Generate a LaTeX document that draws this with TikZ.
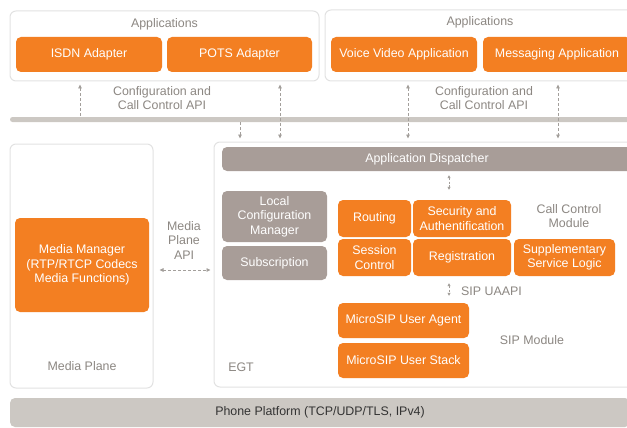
\documentclass[tikz,border=0pt]{standalone}
\usepackage{fontspec}
\setmainfont{Liberation Sans}
\usetikzlibrary{arrows.meta}
\definecolor{sapOrange}{HTML}{F37F22}
\definecolor{sapTaupe}{HTML}{A89D98}
\definecolor{sapBar}{HTML}{CCC8C3}
\definecolor{sapLine}{HTML}{E2E2E2}
\definecolor{sapText}{HTML}{8C8782}
\tikzset{
  frame/.style={draw=sapLine,line width=1pt,fill=white,rounded corners=6pt,inner sep=0pt},
  app/.style={fill=sapOrange,text=white,rounded corners=5pt,inner sep=0pt,align=center,font=\fontsize{12.4}{14.5}\selectfont},
  greybox/.style={fill=sapTaupe,text=white,rounded corners=5pt,inner sep=0pt,align=center,font=\fontsize{12.4}{14.5}\selectfont},
  lbl/.style={text=sapText,align=center,inner sep=0pt,font=\fontsize{12.4}{14.5}\selectfont},
  api/.style={draw=sapText!80,dashed,dash pattern=on 3pt off 2pt,line width=0.8pt,
    {Triangle[length=4pt,width=3.5pt]}-{Triangle[length=4pt,width=3.5pt]}},
  apiup/.style={api,{Triangle[length=4pt,width=3.5pt]}-},
  apidown/.style={api,-{Triangle[length=4pt,width=3.5pt]}},
  apismall/.style={draw=sapText!80,line width=0.7pt,dash pattern=on 2pt off 1.5pt,
    {Triangle[length=3pt,width=3pt]}-{Triangle[length=3pt,width=3pt]}}
}
\begin{document}
\begin{tikzpicture}[x=1pt,y=-1pt]
\useasboundingbox (0,0) rectangle (627,428);
\clip (0,0) rectangle (627,428);

% applications
\draw (164.5,46) node[frame,minimum width=309pt,minimum height=70pt] (appsL) {};
\draw (164.5,24) node[lbl] (appsLtxt) {Applications};
\draw (89,54.5) node[app,minimum width=146pt,minimum height=35pt] (isdn) {ISDN Adapter};
\draw (239.5,54.5) node[app,minimum width=145pt,minimum height=35pt] (pots) {POTS Adapter};
\draw (482.5,45.5) node[frame,minimum width=315pt,minimum height=71pt] (appsR) {};
\draw (480,22) node[lbl] (appsRtxt) {Applications};
\draw (404,54.5) node[app,minimum width=146pt,minimum height=35pt] (voice) {Voice Video Application};
\draw (557,54.5) node[app,minimum width=148pt,minimum height=35pt] (msg) {Messaging Application};

\draw (162,98) node[lbl] (cfgL) {Configuration and\\Call Control API};
\draw (484,98) node[lbl] (cfgR) {Configuration and\\Call Control API};

% API bar
\draw (325,119.5) node[fill=sapBar,rounded corners=2.5pt,inner sep=0pt,minimum width=630pt,minimum height=5pt] (bus) {};

% media plane
\draw (81.5,266) node[frame,minimum width=143pt,minimum height=244pt] (media) {};
\draw (82,265) node[app,minimum width=134pt,minimum height=94pt] (mm) {Media Manager\\(RTP/RTCP Codecs\\Media Functions)};
\draw (82,366) node[lbl] (mediatxt) {Media Plane};
\draw (184,240.5) node[lbl] (mapi) {Media\\Plane\\API};

% EGT
\draw (427,264.5) node[frame,minimum width=426pt,minimum height=245pt] (egt) {};
\draw (241,367) node[lbl] (egttxt) {EGT};
\draw (427,159) node[greybox,minimum width=410pt,minimum height=24pt] (disp) {Application Dispatcher};
\draw (274.5,216.5) node[greybox,minimum width=105pt,minimum height=51pt] (lcm) {Local\\Configuration\\Manager};
\draw (274.5,263) node[greybox,minimum width=105pt,minimum height=34pt] (subs) {Subscription};
\draw (374.5,218.5) node[app,minimum width=73pt,minimum height=37pt] (routing) {Routing};
\draw (374.5,257.5) node[app,minimum width=73pt,minimum height=37pt] (session) {Session\\Control};
\draw (462,218.5) node[app,minimum width=98pt,minimum height=37pt] (secu) {Security and\\Authentification};
\draw (462,257.5) node[app,minimum width=98pt,minimum height=37pt] (regis) {Registration};
\draw (564.5,257.5) node[app,minimum width=101pt,minimum height=37pt] (suppl) {Supplementary\\Service Logic};
\draw (569,216) node[lbl] (ccm) {Call Control\\Module};
\draw (403.5,320.5) node[app,minimum width=131pt,minimum height=35pt] (agent) {MicroSIP User Agent};
\draw (403.5,360.5) node[app,minimum width=131pt,minimum height=35pt] (stack) {MicroSIP User Stack};
\draw (532,340) node[lbl] (sipmod) {SIP Module};
\draw (461,291) node[lbl,anchor=west] (uaapi) {SIP UAAPI};

% platform
\draw (320,412.5) node[fill=sapBar,rounded corners=5pt,inner sep=0pt,minimum width=620pt,minimum height=29pt,
  text=black!80,font=\fontsize{12.4}{14.5}\selectfont] (phone) {Phone Platform (TCP/UDP/TLS, IPv4)};

% connectors
\coordinate (x1) at (80,0);
\coordinate (x2) at (240,0);
\coordinate (x3) at (280,0);
\coordinate (x4) at (408,0);
\coordinate (x5) at (558,0);
\coordinate (x6) at (449,0);
\coordinate (y1) at (0,270);
\draw[apiup,shorten <=3pt] (appsL.south -| x1) -- (bus.north -| x1);
\draw[apidown,shorten >=3pt] (bus.south -| x2) -- (egt.north -| x2);
\draw[api,shorten <=3pt,shorten >=3pt] (appsL.south -| x3) -- (egt.north -| x3);
\draw[api,shorten <=3pt,shorten >=3pt] (appsR.south -| x4) -- (egt.north -| x4);
\draw[api,shorten <=3pt,shorten >=3pt] (appsR.south -| x5) -- (egt.north -| x5);
\draw[api,shorten <=6pt,shorten >=3pt] (media.east |- y1) -- (egt.west |- y1);
\draw[apismall,shorten <=4pt,shorten >=10pt] (disp.south -| x6) -- (secu.north -| x6);
\draw[apismall,shorten <=7pt,shorten >=7pt] (regis.south -| x6) -- (agent.north -| x6);
\end{tikzpicture}
\end{document}
